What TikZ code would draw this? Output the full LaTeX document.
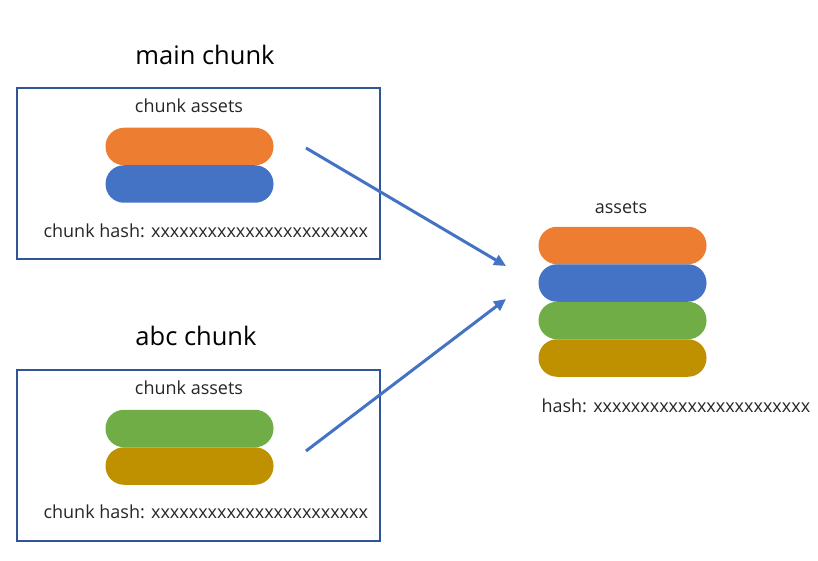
\documentclass[tikz,border=0pt]{standalone}
\usepackage{fontspec}
\setmainfont{Open Sans}
\usetikzlibrary{arrows.meta}

\definecolor{boxblue}{RGB}{47,85,151}
\definecolor{aorange}{RGB}{237,125,49}
\definecolor{ablue}{RGB}{68,114,196}
\definecolor{agreen}{RGB}{112,173,71}
\definecolor{agold}{RGB}{191,144,0}

\tikzset{
  chunkbox/.style={draw=boxblue, line width=2.4pt},
  pill/.style={rounded corners=18.5pt, minimum width=168pt, minimum height=37.5pt, inner sep=0pt},
  label/.style={font=\fontsize{18}{21}\selectfont, text=black!85},
  title/.style={font=\fontsize{25.5}{30}\selectfont},
  flow/.style={draw=ablue, line width=3pt, -{Triangle[length=12pt,width=11pt]}}
}

\begin{document}
\begin{tikzpicture}[x=1pt, y=-1pt]
      \useasboundingbox (0,0) rectangle (818,561);

      % main chunk
      \node[title] (maintitle) at (205,55) {main chunk};
      \draw[chunkbox] (17,88) rectangle (380,259);
      \node[label] (mainassets) at (189,106) {chunk assets};
      \node[pill, fill=aorange] (m1) at (189.5,146.5) {};
      \node[pill, fill=ablue] (m2) at (189.5,184) {};
      \node[label, anchor=west] (mainhash) at (40,231) {chunk hash: xxxxxxxxxxxxxxxxxxxxxxx};

      % abc chunk
      \node[title] (abctitle) at (196,336) {abc chunk};
      \draw[chunkbox] (17,370) rectangle (380,541);
      \node[label] (abcassets) at (189,388) {chunk assets};
      \node[pill, fill=agreen] (a1) at (189.5,428.5) {};
      \node[pill, fill=agold] (a2) at (189.5,466) {};
      \node[label, anchor=west] (abchash) at (40,512) {chunk hash: xxxxxxxxxxxxxxxxxxxxxxx};

      % merged assets
      \node[label] (assets) at (621,208) {assets};
      \foreach \c [count=\i] in {aorange,ablue,agreen,agold}{
        \node[pill, fill=\c] (s\i) at (622.5,245.5+37.5*\i-37.5) {};
      }
      \node[label, anchor=west] (hash) at (538,406) {hash: xxxxxxxxxxxxxxxxxxxxxxx};

      \coordinate (mainout) at (306,148);
      \coordinate (abcout) at (306,451);
      \coordinate (in1) at (506,266);
      \coordinate (in2) at (506,299);
      \draw[flow] (mainout) -- (in1);
      \draw[flow] (abcout) -- (in2);
    \end{tikzpicture}
\end{document}
